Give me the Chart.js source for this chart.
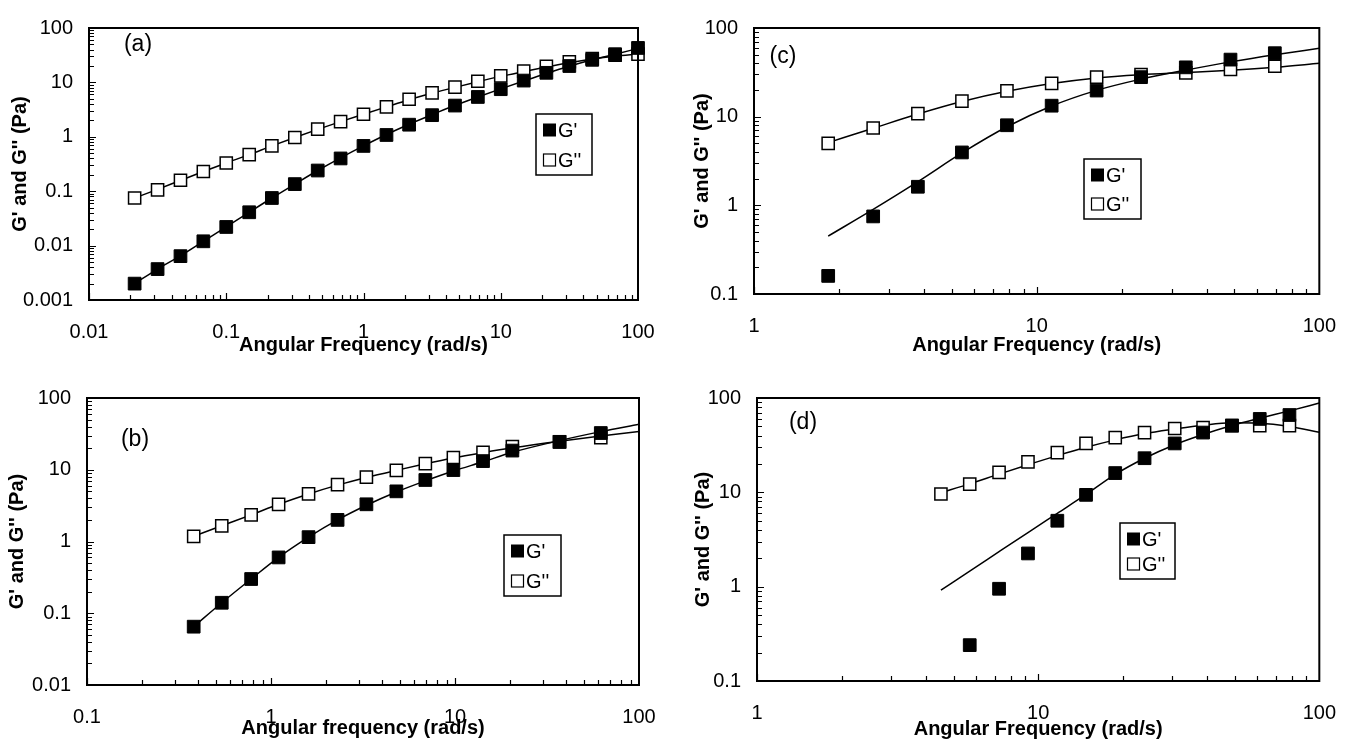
<!DOCTYPE html>
<html>
<head>
<meta charset="utf-8">
<script src="https://cdn.jsdelivr.net/npm/chart.js@4.4.1/dist/chart.umd.min.js"></script>
<style>
  html, body { margin: 0; padding: 0; background: #fff; }
  body { width: 1356px; height: 743px; position: relative; overflow: hidden; }
  canvas { position: absolute; }
</style>
</head>
<body>
<canvas id="panelA" width="678" height="370" style="left:0;top:0"></canvas>
<canvas id="panelC" width="678" height="370" style="left:678px;top:0"></canvas>
<canvas id="panelB" width="678" height="373" style="left:0;top:370px"></canvas>
<canvas id="panelD" width="678" height="373" style="left:678px;top:370px"></canvas>
<script>
// PANEL (a)
const freqA = [0.0215, 0.0316, 0.0464, 0.0681, 0.1, 0.147, 0.215, 0.316, 0.464, 0.681, 1, 1.47, 2.15, 3.16, 4.64, 6.81, 10, 14.7, 21.5, 31.6, 46.4, 68.1, 100];
const gpA  = [0.002, 0.0037, 0.0064, 0.012, 0.022, 0.041, 0.075, 0.135, 0.24, 0.4, 0.68, 1.08, 1.67, 2.5, 3.75, 5.4, 7.5, 10.8, 15, 20, 26, 33, 43];
const gppA = [0.075, 0.106, 0.159, 0.23, 0.33, 0.47, 0.68, 0.97, 1.38, 1.9, 2.6, 3.55, 4.9, 6.4, 8.2, 10.5, 13.2, 16.1, 19.8, 24, 27.5, 31.5, 33];
const fitFreqA = freqA;
const fitGpA = [0.002, 0.0037, 0.0065, 0.012, 0.022, 0.041, 0.075, 0.135, 0.24, 0.41, 0.68, 1.1, 1.7, 2.55, 3.8, 5.4, 7.6, 10.6, 14.6, 19.8, 26, 33, 42];
const fitGppA = [0.075, 0.108, 0.158, 0.23, 0.33, 0.47, 0.68, 0.97, 1.37, 1.9, 2.6, 3.55, 4.8, 6.3, 8.1, 10.3, 12.9, 15.8, 19.2, 23, 26.8, 30.2, 33];

// PANEL (b)
const freqB = [0.38, 0.54, 0.78, 1.1, 1.6, 2.3, 3.3, 4.8, 6.9, 9.8, 14.2, 20.5, 37, 62];
const gpB  = [0.065, 0.14, 0.3, 0.6, 1.15, 2.0, 3.3, 5.0, 7.2, 9.9, 13.2, 18.5, 24.5, 32.5];
const gppB = [1.18, 1.65, 2.35, 3.3, 4.6, 6.2, 7.9, 9.8, 12.2, 14.8, 17.5, 21, 24.5, 28];
const fitFreqB = [0.38, 0.54, 0.78, 1.1, 1.6, 2.3, 3.3, 4.8, 6.9, 9.8, 14.2, 20.5, 37, 62, 100];
const fitGpB  = [0.065, 0.14, 0.3, 0.6, 1.15, 2.0, 3.2, 4.9, 7.0, 9.6, 12.9, 17.5, 25.5, 34, 43];
const fitGppB = [1.18, 1.66, 2.35, 3.3, 4.6, 6.1, 7.8, 9.8, 12.1, 14.6, 17.3, 20.2, 25, 29.5, 34];

// PANEL (c)
const freqC = [1.83, 2.64, 3.8, 5.44, 7.85, 11.3, 16.3, 23.4, 33.7, 48.5, 69.6];
const gpC  = [0.16, 0.75, 1.62, 3.95, 8.0, 13.3, 19.7, 27.9, 36, 44, 52];
const gppC = [5.0, 7.45, 10.8, 15.0, 19.5, 23.7, 27.9, 29.8, 31.2, 34, 37];
const fitFreqC = [1.83, 2.64, 3.8, 5.44, 7.85, 11.3, 16.3, 23.4, 33.7, 48.5, 69.6, 100];
const fitGpC  = [0.45, 0.9, 1.85, 3.9, 7.7, 13.2, 19.8, 26.5, 33.5, 41.5, 50, 59];
const fitGppC = [5.1, 7.4, 10.7, 14.8, 19.3, 23.6, 27.3, 29.7, 31.4, 33.3, 36, 40];

// PANEL (d)
const freqD = [4.51, 5.71, 7.26, 9.2, 11.7, 14.8, 18.8, 23.9, 30.6, 38.6, 48.9, 61.4, 78.3];
const gpD  = [null, 0.24, 0.95, 2.25, 5.0, 9.4, 16, 23, 33, 43, 51, 60, 66];
const gppD = [9.6, 12.2, 16.3, 21, 26.4, 33, 38, 43, 47.5, 48.5, 51, 51, 51];
const fitFreqD = [4.51, 5.71, 7.26, 9.2, 11.7, 14.8, 18.8, 23.9, 30.6, 38.6, 48.9, 61.4, 78.3, 100];
const fitGpD  = [0.92, 1.46, 2.35, 3.75, 6.0, 9.5, 15.5, 23, 32, 41, 51, 61, 73, 88.5];
const fitGppD = [9.9, 12.3, 15.6, 19.6, 24.5, 30, 36, 42, 47, 51.5, 54.5, 54, 50, 43.4];

const FONT = "'Liberation Sans', Arial, sans-serif";

const pts = (xs, ys) => xs.map((x, i) => ({ x, y: ys[i] })).filter(p => p.y != null);

// box round the plot and inward log ticks
const frame = {
  id: 'frame',
  afterDraw(chart) {
    const { ctx, chartArea: a, scales: { x, y } } = chart;
    ctx.save();
    ctx.strokeStyle = '#000';
    ctx.lineWidth = 1.2;
    ctx.beginPath();
    for (let d = Math.round(Math.log10(x.min)); d < Math.round(Math.log10(x.max)); d++) {
      for (let m = 1; m <= 9; m++) {
        const px = Math.round(x.getPixelForValue(m * Math.pow(10, d))) + 0.5;
        const len = m === 1 ? 7 : 5;
        ctx.moveTo(px, a.bottom);
        ctx.lineTo(px, a.bottom - len);
      }
    }
    for (let d = Math.round(Math.log10(y.min)); d < Math.round(Math.log10(y.max)); d++) {
      for (let m = 1; m <= 9; m++) {
        const py = Math.round(y.getPixelForValue(m * Math.pow(10, d))) + 0.5;
        const len = m === 1 ? 7 : 5;
        ctx.moveTo(a.left, py);
        ctx.lineTo(a.left + len, py);
      }
    }
    ctx.stroke();
    ctx.lineWidth = 2;
    ctx.strokeRect(a.left, a.top, a.right - a.left, a.bottom - a.top);
    ctx.restore();
  }
};

// boxed legend with square markers
const boxLegend = {
  id: 'boxLegend',
  afterDraw(chart, args, o) {
    const ctx = chart.ctx;
    const s = 13;
    ctx.save();
    ctx.strokeStyle = '#000';
    ctx.lineWidth = 1.5;
    ctx.strokeRect(o.x, o.y, o.w, o.h);
    ctx.font = '20px ' + FONT;
    ctx.textBaseline = 'middle';
    const rows = [o.y + 16, o.y + o.h - 15];
    ctx.fillStyle = '#000';
    ctx.fillRect(o.x + 7, rows[0] - s / 2, s, s);
    ctx.fillStyle = '#fff';
    ctx.fillRect(o.x + 7.5, rows[1] - s / 2 + 0.5, s - 1, s - 1);
    ctx.lineWidth = 1.2;
    ctx.strokeRect(o.x + 7.5, rows[1] - s / 2 + 0.5, s - 1, s - 1);
    ctx.fillStyle = '#000';
    ctx.fillText("G'", o.x + 22, rows[0] + 1);
    ctx.fillText("G''", o.x + 22, rows[1] + 1);
    ctx.restore();
  }
};

const tag = {
  id: 'tag',
  afterDraw(chart, args, o) {
    const ctx = chart.ctx;
    ctx.save();
    ctx.font = '23px ' + FONT;
    ctx.fillStyle = '#000';
    ctx.textAlign = 'center';
    ctx.textBaseline = 'middle';
    ctx.fillText(o.text, o.x, o.y);
    ctx.restore();
  }
};

function decades(min, max) {
  const out = [];
  for (let d = Math.round(Math.log10(min)); d <= Math.round(Math.log10(max)); d++) out.push(Math.pow(10, d));
  return out;
}

function makePanel(id, p) {
  const c = document.getElementById(id);
  const W = c.width, H = c.height;
  new Chart(c, {
    type: 'scatter',
    data: {
      datasets: [
        { data: pts(p.freq, p.gp), pointStyle: 'rect', pointRadius: 9, pointHoverRadius: 9,
          backgroundColor: '#000', borderColor: '#000', borderWidth: 1, showLine: false, order: 0, clip: false },
        { data: pts(p.freq, p.gpp), pointStyle: 'rect', pointRadius: 8.6, pointHoverRadius: 8.6,
          backgroundColor: '#fff', borderColor: '#000', borderWidth: 1.5, showLine: false, order: 1, clip: false },
        { data: pts(p.fitFreq, p.fitGp), showLine: true, pointRadius: 0, borderColor: '#000', borderWidth: 1.5,
          cubicInterpolationMode: 'monotone', order: 2 },
        { data: pts(p.fitFreq, p.fitGpp), showLine: true, pointRadius: 0, borderColor: '#000', borderWidth: 1.5,
          cubicInterpolationMode: 'monotone', order: 2 }
      ]
    },
    options: {
      responsive: false,
      animation: false,
      events: [],
      layout: { padding: { top: p.area.t, right: W - p.area.r, bottom: 0, left: 0 } },
      plugins: {
        legend: { display: false },
        tooltip: { enabled: false },
        boxLegend: p.legend,
        tag: p.tag
      },
      scales: {
        x: {
          type: 'logarithmic', min: p.xr[0], max: p.xr[1],
          grid: { display: false, drawTicks: false },
          border: { display: false },
          afterBuildTicks: s => { s.ticks = decades(p.xr[0], p.xr[1]).map(v => ({ value: v })); },
          afterFit: s => { s.height = H - p.area.b; },
          ticks: { autoSkip: false, maxRotation: 0, color: '#000', padding: 20,
                   font: { family: FONT, size: 20 }, callback: v => String(v) },
          title: { display: true, text: p.xTitle, color: '#000', padding: { top: 0, bottom: p.xTitlePad },
                   font: { family: FONT, size: 20, weight: 'bold' } }
        },
        y: {
          type: 'logarithmic', min: p.yr[0], max: p.yr[1],
          grid: { display: false, drawTicks: false },
          border: { display: false },
          afterBuildTicks: s => { s.ticks = decades(p.yr[0], p.yr[1]).map(v => ({ value: v })); },
          afterFit: s => { s.width = p.area.l; },
          ticks: { autoSkip: false, color: '#000', padding: 16,
                   font: { family: FONT, size: 20 }, callback: v => String(v) },
          title: { display: true, text: "G' and G'' (Pa)", color: '#000', padding: { top: p.yTitlePad, bottom: 0 },
                   font: { family: FONT, size: 20, weight: 'bold' } }
        }
      }
    },
    plugins: [frame, boxLegend, tag]
  });
}

makePanel('panelA', {
  freq: freqA, gp: gpA, gpp: gppA, fitFreq: fitFreqA, fitGp: fitGpA, fitGpp: fitGppA,
  xr: [0.01, 100], yr: [0.001, 100],
  area: { l: 89, r: 638, t: 16, b: 300 },
  xTitle: 'Angular Frequency (rad/s)', xTitlePad: 13, yTitlePad: 8,
  legend: { x: 536, y: 114, w: 56, h: 61 },
  tag: { text: '(a)', x: 138, y: 45 }
});

makePanel('panelC', {
  freq: freqC, gp: gpC, gpp: gppC, fitFreq: fitFreqC, fitGp: fitGpC, fitGpp: fitGppC,
  xr: [1, 100], yr: [0.1, 100],
  area: { l: 76, r: 645, t: 16, b: 294 },
  xTitle: 'Angular Frequency (rad/s)', xTitlePad: 13, yTitlePad: 12,
  legend: { x: 406, y: 159, w: 57, h: 60 },
  tag: { text: '(c)', x: 105, y: 57 }
});

makePanel('panelB', {
  freq: freqB, gp: gpB, gpp: gppB, fitFreq: fitFreqB, fitGp: fitGpB, fitGpp: fitGppB,
  xr: [0.1, 100], yr: [0.01, 100],
  area: { l: 87, r: 639, t: 26, b: 315 },
  xTitle: 'Angular frequency (rad/s)', xTitlePad: 3, yTitlePad: 5,
  legend: { x: 504, y: 165, w: 57, h: 61 },
  tag: { text: '(b)', x: 135, y: 70 }
});

makePanel('panelD', {
  freq: freqD, gp: gpD, gpp: gppD, fitFreq: fitFreqD, fitGp: fitGpD, fitGpp: fitGppD,
  xr: [1, 100], yr: [0.1, 100],
  area: { l: 79, r: 645, t: 25, b: 311 },
  xTitle: 'Angular Frequency (rad/s)', xTitlePad: 2, yTitlePad: 13,
  legend: { x: 442, y: 153, w: 55, h: 56 },
  tag: { text: '(d)', x: 125, y: 53 }
});
</script>
</body>
</html>
